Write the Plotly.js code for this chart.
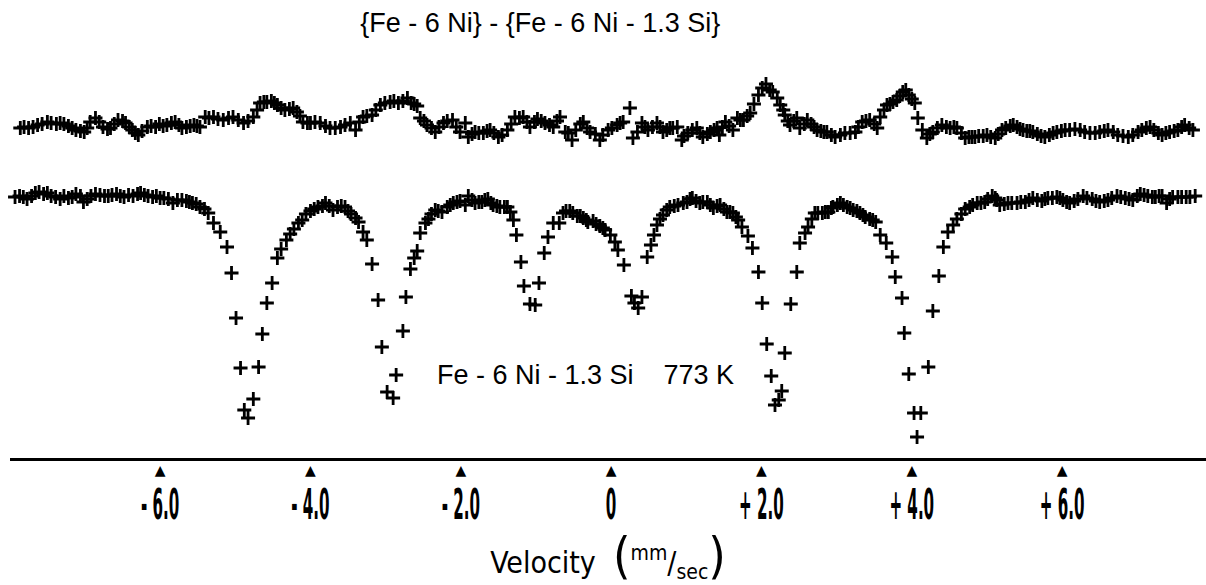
<!DOCTYPE html>
<html>
<head>
<meta charset="utf-8">
<script src="https://cdn.plot.ly/plotly-3.0.1.min.js"></script>
<style>html,body{margin:0;padding:0;background:#fff;}#chart{width:1206px;height:585px;}</style>
</head>
<body>
<div id="chart"></div>
<script>
// Difference spectrum (Fe-6Ni) - (Fe-6Ni-1.3Si): velocity (mm/s) and relative counts (a.u.)
const diffVelocity = [-7.86,-7.81,-7.75,-7.69,-7.63,-7.57,-7.50,-7.45,-7.38,-7.33,-7.28,-7.22,-7.17,-7.12,-7.06,-7.01,-6.97,-6.93,-6.86,-6.81,-6.76,-6.70,-6.66,-6.61,-6.56,-6.50,-6.46,-6.41,-6.37,-6.33,-6.29,-6.24,-6.17,-6.12,-6.06,-6.01,-5.96,-5.91,-5.85,-5.80,-5.75,-5.71,-5.65,-5.60,-5.55,-5.51,-5.47,-5.40,-5.35,-5.29,-5.23,-5.16,-5.09,-5.03,-4.96,-4.89,-4.83,-4.76,-4.71,-4.67,-4.62,-4.58,-4.52,-4.48,-4.44,-4.39,-4.34,-4.28,-4.23,-4.18,-4.14,-4.10,-4.04,-4.00,-3.94,-3.87,-3.80,-3.74,-3.67,-3.60,-3.54,-3.47,-3.40,-3.35,-3.30,-3.25,-3.18,-3.13,-3.07,-3.01,-2.94,-2.89,-2.83,-2.77,-2.71,-2.66,-2.62,-2.58,-2.54,-2.49,-2.45,-2.39,-2.34,-2.29,-2.23,-2.18,-2.11,-2.06,-2.01,-1.94,-1.90,-1.85,-1.81,-1.76,-1.70,-1.65,-1.61,-1.56,-1.50,-1.45,-1.38,-1.33,-1.28,-1.22,-1.17,-1.12,-1.08,-1.02,-0.98,-0.93,-0.88,-0.82,-0.77,-0.72,-0.68,-0.61,-0.57,-0.52,-0.47,-0.41,-0.37,-0.32,-0.28,-0.21,-0.15,-0.11,-0.04,0.01,0.08,0.12,0.16,0.25,0.29,0.35,0.41,0.45,0.49,0.55,0.61,0.65,0.69,0.74,0.78,0.82,0.88,0.94,0.97,1.02,1.08,1.14,1.18,1.22,1.28,1.32,1.37,1.41,1.44,1.48,1.52,1.57,1.62,1.68,1.72,1.76,1.81,1.85,1.90,1.96,2.01,2.06,2.11,2.15,2.21,2.25,2.29,2.31,2.35,2.38,2.43,2.47,2.51,2.57,2.61,2.66,2.70,2.74,2.79,2.83,2.87,2.93,2.98,3.05,3.11,3.18,3.25,3.29,3.34,3.39,3.44,3.50,3.54,3.58,3.63,3.67,3.71,3.75,3.80,3.84,3.88,3.92,3.96,4.00,4.04,4.08,4.14,4.20,4.24,4.28,4.34,4.40,4.46,4.51,4.56,4.60,4.66,4.71,4.76,4.80,4.84,4.89,4.95,5.00,5.05,5.11,5.15,5.20,5.25,5.31,5.35,5.40,5.44,5.48,5.53,5.57,5.61,5.67,5.72,5.77,5.83,5.88,5.93,5.99,6.04,6.10,6.17,6.24,6.30,6.37,6.44,6.50,6.56,6.61,6.68,6.74,6.81,6.88,6.94,7.01,7.06,7.12,7.17,7.22,7.28,7.33,7.38,7.43,7.49,7.54,7.59,7.63,7.69,7.74];
const diffCounts = [330,331,330,331,333,334,336,335,334,335,334,332,330,328,327,326,330,336,340,336,331,329,330,334,338,337,335,331,328,325,323,327,331,332,331,334,332,333,335,336,333,330,331,332,333,332,331,341,340,341,339,338,340,341,338,335,337,341,348,355,356,356,357,355,353,350,348,349,350,346,342,336,335,335,336,335,332,330,330,331,333,335,328,336,341,342,343,348,353,355,356,357,355,357,360,355,354,352,340,337,333,330,326,331,335,337,338,331,326,335,321,324,326,325,325,327,328,325,321,323,328,334,341,340,341,336,331,336,339,337,335,333,331,337,341,326,325,318,328,334,336,330,326,324,318,323,328,330,333,335,336,350,320,326,335,331,328,331,335,331,326,328,330,330,331,318,322,325,328,330,325,321,324,326,328,330,323,331,336,332,328,340,338,338,342,345,354,363,370,374,368,366,360,353,348,343,337,333,337,340,330,334,338,334,331,328,327,326,326,323,321,323,325,325,326,331,336,337,338,334,330,341,348,353,354,356,358,362,366,368,363,359,355,340,328,320,324,326,330,333,331,330,331,330,325,320,321,321,321,322,322,323,321,320,324,328,330,332,333,331,329,328,327,327,326,324,322,321,323,325,326,327,328,328,329,328,326,325,325,326,327,328,326,323,322,321,323,326,328,330,331,328,325,323,325,326,327,328,331,333,330,328];

// Absorption spectrum Fe-6Ni-1.3Si at 773 K
const specVelocity = [-7.93,-7.87,-7.82,-7.77,-7.71,-7.66,-7.61,-7.55,-7.50,-7.45,-7.39,-7.33,-7.28,-7.22,-7.17,-7.12,-7.06,-7.02,-6.97,-6.92,-6.86,-6.80,-6.74,-6.69,-6.64,-6.58,-6.53,-6.48,-6.42,-6.36,-6.30,-6.26,-6.21,-6.16,-6.10,-6.05,-6.00,-5.95,-5.89,-5.83,-5.77,-5.71,-5.65,-5.61,-5.57,-5.52,-5.47,-5.41,-5.36,-5.29,-5.20,-5.11,-5.05,-4.99,-4.93,-4.88,-4.83,-4.76,-4.69,-4.64,-4.58,-4.51,-4.44,-4.39,-4.32,-4.27,-4.22,-4.16,-4.11,-4.06,-4.00,-3.95,-3.90,-3.84,-3.80,-3.75,-3.70,-3.64,-3.59,-3.54,-3.50,-3.46,-3.40,-3.36,-3.30,-3.25,-3.18,-3.10,-3.05,-2.98,-2.90,-2.86,-2.77,-2.73,-2.67,-2.62,-2.58,-2.54,-2.47,-2.43,-2.39,-2.34,-2.30,-2.25,-2.18,-2.14,-2.10,-2.05,-2.01,-1.94,-1.90,-1.85,-1.81,-1.76,-1.72,-1.68,-1.64,-1.60,-1.57,-1.52,-1.48,-1.42,-1.38,-1.34,-1.30,-1.26,-1.20,-1.16,-1.08,-1.01,-0.96,-0.89,-0.84,-0.77,-0.69,-0.64,-0.60,-0.55,-0.51,-0.45,-0.41,-0.37,-0.33,-0.31,-0.24,-0.20,-0.15,-0.11,-0.08,-0.01,0.05,0.09,0.17,0.27,0.31,0.36,0.41,0.48,0.53,0.57,0.61,0.65,0.69,0.74,0.78,0.84,0.89,0.96,1.01,1.05,1.08,1.13,1.18,1.22,1.28,1.32,1.36,1.41,1.45,1.50,1.54,1.58,1.62,1.66,1.69,1.74,1.82,1.88,1.96,2.01,2.07,2.13,2.18,2.23,2.27,2.31,2.39,2.47,2.51,2.58,2.62,2.67,2.71,2.75,2.81,2.85,2.89,2.93,2.95,3.01,3.05,3.09,3.14,3.18,3.22,3.27,3.31,3.35,3.38,3.44,3.48,3.52,3.58,3.66,3.74,3.78,3.87,3.90,3.96,4.03,4.07,4.12,4.22,4.28,4.36,4.42,4.48,4.55,4.60,4.66,4.71,4.77,4.81,4.87,4.92,4.97,5.01,5.07,5.11,5.13,5.17,5.23,5.28,5.33,5.40,5.45,5.51,5.56,5.61,5.67,5.73,5.77,5.81,5.87,5.93,5.97,6.01,6.06,6.10,6.16,6.21,6.28,6.33,6.40,6.45,6.50,6.56,6.61,6.66,6.73,6.78,6.84,6.89,6.94,7.00,7.04,7.09,7.14,7.20,7.24,7.29,7.33,7.39,7.43,7.47,7.54,7.59,7.65,7.70,7.77];
const specCounts = [261,262,261,259,262,265,266,264,265,262,261,259,262,260,261,264,262,256,259,262,264,263,262,262,263,264,262,261,263,262,264,265,263,262,261,262,260,260,259,255,258,258,257,256,255,254,251,249,245,235,226,211,185,140,90,48,40,59,91,124,155,175,200,209,218,224,229,235,238,244,247,249,251,252,255,252,248,251,252,251,247,244,240,236,226,218,194,158,111,66,60,83,127,161,189,200,207,225,235,239,244,248,247,246,251,253,255,256,257,253,262,258,255,256,256,258,259,255,253,252,251,251,251,246,238,223,196,172,154,153,175,205,221,235,235,245,247,247,245,242,242,240,238,236,237,234,232,230,228,223,216,208,193,162,155,150,161,201,213,223,233,239,243,248,251,252,253,255,256,259,260,257,255,256,256,253,250,252,253,249,246,246,245,241,238,231,222,210,186,155,114,82,53,58,67,105,154,186,215,225,231,239,245,245,245,246,246,250,251,253,255,253,251,250,248,247,245,243,241,239,238,236,223,215,201,181,160,125,84,45,21,45,91,147,182,211,226,233,239,244,249,251,253,255,255,256,259,262,260,258,253,254,255,255,255,256,256,258,260,258,257,259,260,260,261,260,258,256,255,257,259,262,260,259,257,256,257,258,260,262,261,260,259,258,262,264,263,262,261,261,262,262,255,259,261,261,261,261,261,262];

const tickVals = [-6, -4, -2, 0, 2, 4, 6];
const tickLabels = ['- 6.0', '- 4.0', '- 2.0', '0', '+ 2.0', '+ 4.0', '+ 6.0'];
const tickMarks = ['▲', '▲', '▲', '▲', '▲', '▲', '▲'];

const xRange = [-7.997, 7.914];
const markerStyle = {symbol: 'cross-thin', size: 10, color: '#000', line: {color: '#000', width: 2.8}};

const traces = [
  {x: diffVelocity, y: diffCounts, type: 'scatter', mode: 'markers', marker: markerStyle, xaxis: 'x2', yaxis: 'y', hoverinfo: 'skip', cliponaxis: false},
  {x: specVelocity, y: specCounts, type: 'scatter', mode: 'markers', marker: markerStyle, xaxis: 'x', yaxis: 'y', hoverinfo: 'skip', cliponaxis: false}
];

const narrow = '"DejaVu Sans Condensed", "Liberation Sans Narrow", "Liberation Sans", sans-serif';
const sans = '"Liberation Sans", Arial, sans-serif';

const layout = {
  width: 1206, height: 585,
  margin: {l: 10, r: 0, t: 0, b: 127},
  paper_bgcolor: '#fff', plot_bgcolor: '#fff',
  showlegend: false,
  title: {
    text: '{Fe - 6 Ni} - {Fe - 6 Ni - 1.3 Si}',
    font: {family: sans, size: 27, color: '#000'},
    xref: 'container', yref: 'container', x: 0.448, y: 0.962, xanchor: 'center', yanchor: 'middle'
  },
  xaxis: {
    range: xRange, showgrid: false, zeroline: false,
    showline: true, linecolor: '#000', linewidth: 2.5,
    tickmode: 'array', tickvals: tickVals, ticktext: tickLabels,
    ticks: '', ticklabelstandoff: 8,
    tickfont: {family: narrow, size: 42, color: '#000', weight: 'bold'},
    title: {
      text: 'Velocity  <span style="font-size:50px">(</span><sup>mm</sup>/<sub>sec</sub><span style="font-size:50px">)</span>',
      font: {family: narrow, size: 30, color: '#000'}, standoff: 4
    }
  },
  xaxis2: {
    range: xRange, overlaying: 'x', anchor: 'y', side: 'bottom',
    showgrid: false, zeroline: false, showline: false,
    tickmode: 'array', tickvals: tickVals, ticktext: tickMarks,
    ticks: '', ticklabelstandoff: 2,
    tickfont: {family: '"DejaVu Sans", sans-serif', size: 14, color: '#000'}
  },
  yaxis: {range: [0, 458], visible: false, showgrid: false, zeroline: false, fixedrange: true},
  annotations: [{
    text: 'Fe - 6 Ni - 1.3 Si\u00a0\u00a0\u00a0\u00a0773 K',
    xref: 'paper', yref: 'paper', x: 0.481, y: 0.181, xanchor: 'center', yanchor: 'middle',
    showarrow: false, font: {family: sans, size: 27, color: '#000'}
  }]
};

Plotly.newPlot('chart', traces, layout, {staticPlot: true, displayModeBar: false}).then(function (gd) {
  // condense the tall, narrow tick lettering of the original print
  gd.querySelectorAll('.xtick text').forEach(function (t) {
    const b = t.getBBox();
    const cx = b.x + b.width / 2, cy = b.y + b.height / 2;
    const prev = t.getAttribute('transform') || '';
    t.setAttribute('transform', prev + ' translate(' + cx + ',' + cy + ') scale(0.4,1) translate(' + (-cx) + ',' + (-cy) + ')');
  });
});
</script>
</body>
</html>
